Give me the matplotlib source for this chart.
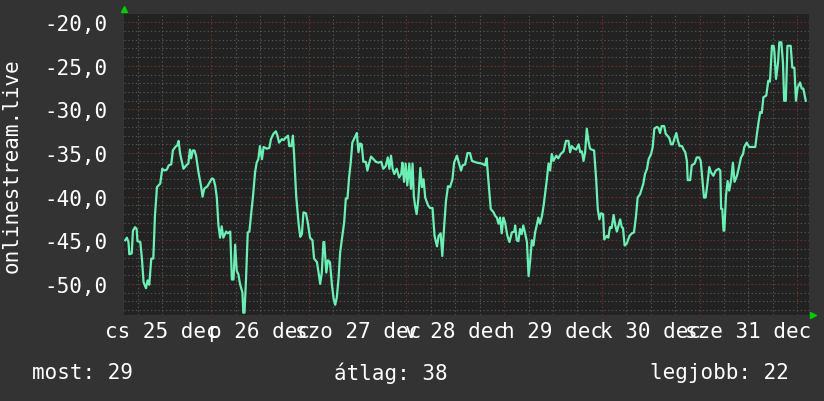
import numpy as np
import matplotlib
matplotlib.use('Agg')
import matplotlib.pyplot as plt

# hours since 25 dec 00:00, and the plotted value
hours = [2.9, 3.3, 3.7, 3.9, 4.5, 4.8, 5.3, 5.7, 5.9, 6.6, 7.0, 7.4, 8.0, 8.4, 8.8, 9.3, 9.8, 10.2, 10.7, 11.5,
         12.0, 12.5, 13.1, 13.6, 14.2, 14.6, 15.2, 15.7, 16.0, 16.4, 17.2, 17.9, 18.4, 18.8, 19.1, 19.5, 19.9, 20.3, 20.9, 21.5,
         21.9, 22.3, 23.1, 24.2, 24.6, 25.0, 25.4, 25.8, 26.2, 26.6, 27.0, 27.7, 28.1, 28.7, 29.1, 29.5, 29.9, 30.3, 30.7, 31.1,
         31.7, 31.9, 32.2, 32.6, 33.0, 33.4, 33.8, 34.3, 34.8, 35.2, 35.6, 36.0, 36.5, 36.9, 37.7, 38.3, 38.7, 39.3, 39.9, 40.3,
         40.7, 41.4, 41.8, 42.4, 42.9, 43.2, 43.7, 44.1, 44.4, 44.9, 45.5, 45.9, 46.3, 46.7, 47.3, 47.8, 48.3, 48.9, 49.3, 50.0,
         50.4, 50.8, 51.2, 51.6, 51.8, 52.3, 52.7, 53.2, 53.7, 54.1, 54.5, 54.9, 55.3, 55.7, 56.1, 56.7, 57.1, 57.5, 57.9, 58.3,
         58.7, 59.2, 59.8, 60.2, 60.6, 61.0, 61.4, 62.0, 62.4, 62.8, 63.3, 63.9, 64.5, 65.1, 65.8, 66.3, 66.9, 67.4, 67.8, 68.2,
         68.6, 69.0, 69.6, 70.2, 70.7, 71.0, 71.4, 71.8, 72.2, 72.7, 73.1, 73.5, 73.8, 74.1, 74.5, 74.9, 75.4, 75.8, 76.2, 76.6,
         77.3, 77.8, 78.4, 78.9, 79.5, 79.9, 80.4, 80.8, 81.3, 81.7, 82.2, 82.7, 83.3, 83.7, 84.4, 84.8, 85.4, 85.8, 86.4, 87.0,
         87.6, 88.1, 89.3, 90.5, 91.3, 91.7, 92.1, 92.7, 93.4, 93.8, 94.2, 94.6, 95.0, 95.4, 95.8, 96.2, 96.8, 97.3, 97.9, 98.5,
         98.7, 99.1, 99.5, 99.9, 100.3, 100.7, 101.2, 101.6, 102.0, 102.4, 102.8, 103.2, 103.6, 104.0, 104.4, 104.8, 105.3, 105.7, 106.1, 106.5,
         106.9, 107.3, 107.7, 108.1, 108.8, 109.3, 109.9, 110.6, 111.2, 111.8, 112.2, 112.6, 113.2, 113.7, 114.3, 114.7, 115.1, 115.5, 115.9, 116.3,
         116.7, 117.1, 117.5, 118.1, 118.6, 119.0, 119.4, 119.8, 120.3, 120.6, 121.2, 121.6, 122.0, 122.4, 122.9, 123.3, 123.7, 124.1, 124.5, 124.9,
         125.2, 125.6, 126.1, 126.8, 127.4, 127.9, 128.4, 128.8, 129.4, 129.8, 130.2, 130.6, 131.1, 131.5, 132.1, 132.5, 132.9, 133.5, 133.9, 134.3,
         134.7, 135.3, 135.7, 136.1, 136.6, 137.0, 137.4, 137.8, 138.3, 138.7, 139.1, 139.7, 140.1, 140.5, 140.9, 141.1, 141.7, 142.1, 142.8, 143.3,
         143.9, 144.3, 144.7, 145.1, 145.5, 146.0, 146.4, 146.8, 147.4, 148.0, 148.7, 149.1, 149.3, 149.6, 149.9, 150.1, 150.5, 150.9, 151.3, 151.8,
         152.2, 152.6, 153.2, 153.6, 154.2, 154.7, 155.0, 155.6, 156.2, 157.7, 158.1, 158.5, 158.9, 159.3, 159.7, 160.4, 160.9, 161.3, 161.8, 162.2,
         162.4, 162.8, 163.3, 163.6, 164.1, 164.5, 164.8, 165.2, 165.6, 166.4, 166.8, 167.3, 167.7, 168.1, 168.7, 169.1, 169.5, 170.1]
values = [-45.0, -44.7, -45.2, -46.6, -46.5, -43.9, -43.5, -43.7, -45.1, -45.2, -47.1, -49.8, -50.5, -49.6, -50.1, -47.1, -47.1, -42.2, -38.9, -38.5,
          -36.8, -37.0, -36.9, -36.4, -36.3, -34.7, -34.3, -34.1, -33.6, -35.1, -36.8, -36.4, -36.2, -34.6, -35.6, -34.7, -34.7, -35.3, -37.2, -38.7,
          -40.0, -39.1, -38.8, -37.9, -38.0, -38.7, -40.1, -43.3, -44.7, -43.4, -44.7, -44.0, -44.2, -44.0, -49.5, -49.5, -45.5, -48.5, -48.9, -50.0,
          -51.0, -53.3, -53.3, -49.2, -44.1, -44.0, -42.2, -39.9, -37.2, -36.1, -35.7, -34.2, -35.7, -34.3, -34.5, -34.4, -33.4, -32.8, -32.5, -33.0,
          -33.8, -33.4, -33.5, -33.2, -33.0, -34.2, -34.2, -33.0, -35.3, -39.9, -43.1, -44.6, -44.3, -41.8, -41.9, -43.1, -44.7, -45.0, -47.1, -47.5,
          -48.7, -50.0, -48.7, -45.2, -45.2, -48.7, -47.3, -47.5, -50.2, -51.7, -52.4, -51.5, -49.4, -46.4, -45.0, -42.9, -40.2, -40.2, -37.8, -36.1,
          -33.8, -33.3, -32.7, -34.9, -33.9, -34.0, -36.0, -36.0, -37.0, -36.2, -35.4, -35.7, -36.0, -36.1, -36.0, -36.8, -36.5, -35.5, -36.8, -35.3,
          -36.8, -37.4, -36.8, -37.8, -37.4, -36.1, -38.3, -36.2, -38.7, -36.2, -39.1, -36.2, -39.9, -41.0, -42.0, -40.3, -36.7, -38.9, -38.0, -40.1,
          -41.0, -41.3, -41.3, -44.5, -45.7, -44.5, -44.2, -46.8, -43.1, -40.5, -38.8, -38.9, -38.0, -36.1, -35.3, -36.0, -37.0, -36.4, -36.3, -35.0,
          -35.0, -35.9, -36.1, -36.2, -36.4, -35.6, -38.0, -41.4, -41.8, -42.2, -42.4, -43.1, -42.4, -44.2, -42.4, -42.9, -44.5, -45.2, -44.1, -44.0,
          -43.3, -45.0, -45.1, -43.7, -44.3, -43.3, -44.3, -45.2, -49.1, -47.3, -45.0, -45.6, -44.1, -43.3, -42.4, -43.1, -42.2, -41.0, -39.5, -38.0,
          -36.2, -37.0, -35.1, -35.9, -35.3, -35.6, -35.1, -34.8, -33.6, -33.6, -34.9, -34.2, -34.5, -34.6, -34.0, -34.9, -34.8, -35.9, -34.9, -32.2,
          -33.6, -34.5, -34.6, -34.7, -38.0, -41.4, -42.6, -41.9, -42.0, -44.9, -44.5, -44.7, -43.5, -43.6, -42.1, -43.3, -44.0, -43.3, -42.6, -43.5,
          -43.6, -45.6, -45.4, -44.5, -44.2, -44.1, -42.2, -40.1, -39.7, -39.1, -38.5, -37.4, -36.8, -35.7, -35.1, -34.3, -32.2, -32.0, -32.1, -32.7,
          -31.9, -31.9, -32.8, -33.0, -33.3, -34.0, -34.0, -33.4, -32.7, -33.6, -34.2, -34.2, -34.6, -34.9, -35.9, -38.1, -38.1, -36.4, -36.2, -35.5,
          -35.5, -35.9, -38.0, -40.1, -40.1, -38.3, -36.6, -37.2, -37.6, -37.0, -36.8, -37.0, -41.4, -41.4, -43.9, -43.9, -39.9, -38.2, -39.3, -38.0,
          -36.1, -38.3, -37.6, -36.8, -35.5, -35.1, -34.3, -33.8, -34.3, -34.3, -32.8, -31.5, -30.3, -30.4, -28.6, -28.4, -26.7, -26.8, -22.7, -22.7,
          -23.4, -26.5, -24.6, -22.3, -22.3, -24.6, -29.0, -29.0, -22.7, -22.7, -25.2, -25.2, -29.0, -27.5, -26.9, -27.6, -27.6, -29.0]

day_pos = [12, 36, 60, 84, 108, 132, 156]
day_labels = ['cs 25 dec', 'p 26 dec', 'szo 27 dec', 'v 28 dec', 'h 29 dec', 'k 30 dec', 'sze 31 dec']
y_ticks = [-50, -45, -40, -35, -30, -25, -20]
y_label = 'onlinestream.live'
stats = ['most: 29', 'átlag: 38', 'legjobb: 22']

plt.rcParams['font.family'] = ['DejaVu Sans Mono', 'DejaVu Sans']
fs = 15
bg = '#333333'
fg = '#ffffff'

fig = plt.figure(figsize=(8.24, 4.02), dpi=100, facecolor=bg)
ax = fig.add_axes([0.1505, 0.2139, 0.8313, 0.7488])
ax.set_facecolor('#222222')

x0, x1 = 2.6, 170.9
y0, y1 = -53.57, -19.05
ax.set_xlim(x0, x1)
ax.set_ylim(y0, y1)

# grid, drawn by hand: minor grey every 6 h / 1 unit, major red every day / 5 units
dots = (0, (1.2, 2.2))
for h in np.arange(6, x1, 6):
    major = (h % 24 == 0)
    ax.axvline(h, color='#7a3030' if major else '#555555', lw=0.8, ls=dots, zorder=1)
for v in np.arange(-53, -19, 1):
    major = (v % 5 == 0)
    ax.axhline(v, color='#7a3030' if major else '#555555', lw=0.8, ls=dots, zorder=1)

ax.plot(hours, values, color='#6cefb4', lw=1.6, zorder=3)

ax.set_xticks(day_pos)
ax.set_xticklabels(day_labels)
ax.set_yticks(y_ticks)
ax.set_yticklabels([('%.1f' % v).replace('.', ',') for v in y_ticks])
ax.tick_params(axis='both', length=0, colors=fg, labelsize=fs)
ax.tick_params(axis='x', pad=4)
ax.tick_params(axis='y', pad=12)
for s in ax.spines.values():
    s.set_visible(False)

# little green arrows at axis ends
ax.plot([0], [1.018], marker='^', ms=5, color='#00cc00', transform=ax.transAxes, clip_on=False)
ax.plot([1.006], [0.0], marker='>', ms=5, color='#00cc00', transform=ax.transAxes, clip_on=False)

fig.text(12 / 824, 0.588, y_label, rotation=90, ha='center', va='center', color=fg, fontsize=fs)
fig.text(32 / 824, 0.072, stats[0], ha='left', va='center', color=fg, fontsize=fs)
fig.text(334 / 824, 0.072, stats[1], ha='left', va='center', color=fg, fontsize=fs)
fig.text(650 / 824, 0.072, stats[2], ha='left', va='center', color=fg, fontsize=fs)

fig.savefig('out.png', dpi=100, facecolor=bg)
